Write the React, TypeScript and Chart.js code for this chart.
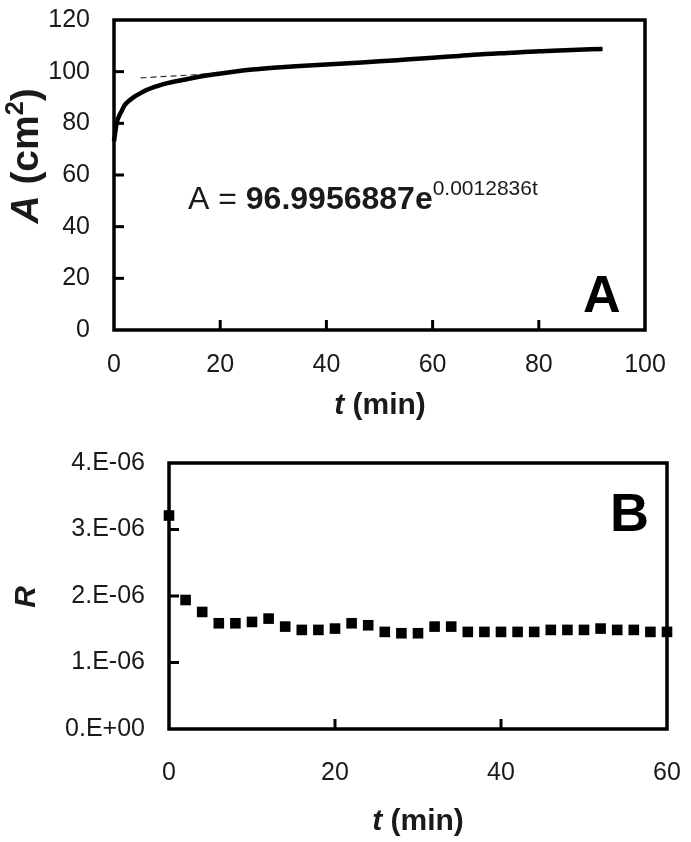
import React, { useEffect, useRef } from "react";
import { Chart, registerables } from "chart.js";

Chart.register(...registerables);

const FONT = "'Liberation Sans', Arial, Helvetica, sans-serif";
const TEXT_COLOR = "#1a1a1a";

// ---------- Panel A data ----------
const areaTimes = [0, 0.5, 1, 1.5, 2, 3, 4, 5, 6, 7.5, 9, 11, 13.5, 16, 19, 22.5, 26, 30, 35, 40, 45, 50, 55, 60, 65, 70, 75, 80, 85, 92];
const areaValues = [73, 80, 83, 85, 87, 89, 90.5, 91.7, 92.8, 94, 95, 96, 97, 98, 99, 100, 100.8, 101.5, 102.2, 102.8, 103.4, 104, 104.7, 105.4, 106.1, 106.8, 107.3, 107.9, 108.3, 108.8];
const fitTimes = [5, 10, 16, 22.5, 30, 40, 50, 60, 70, 80, 92];
const fitValues = [97.6, 98.2, 98.9, 99.8, 101.3, 102.7, 104, 105.3, 106.8, 107.9, 108.9];
const topXTicks = [0, 20, 40, 60, 80, 100];
const topYTicks = [0, 20, 40, 60, 80, 100, 120];
const equationPrefix = "A = ";
const equationCoef = "96.9956887e";
const equationExp = "0.0012836t";

// ---------- Panel B data ----------
const rateTimes = [0, 2, 4, 6, 8, 10, 12, 14, 16, 18, 20, 22, 24, 26, 28, 30, 32, 34, 36, 38, 40, 42, 44, 46, 48, 50, 52, 54, 56, 58, 60];
const rateValues = [3.21e-6, 1.94e-6, 1.76e-6, 1.59e-6, 1.59e-6, 1.61e-6, 1.66e-6, 1.54e-6, 1.49e-6, 1.49e-6, 1.51e-6, 1.59e-6, 1.56e-6, 1.46e-6, 1.44e-6, 1.44e-6, 1.54e-6, 1.54e-6, 1.46e-6, 1.46e-6, 1.46e-6, 1.46e-6, 1.46e-6, 1.49e-6, 1.49e-6, 1.49e-6, 1.51e-6, 1.49e-6, 1.49e-6, 1.46e-6, 1.46e-6];
const botXTicks = [0, 20, 40, 60];
const botYTicks = [0, 1e-6, 2e-6, 3e-6, 4e-6];
const botYTickLabels = ["0.E+00", "1.E-06", "2.E-06", "3.E-06", "4.E-06"];

type Run = { text: string; font: string; dy?: number };

function drawRuns(ctx: CanvasRenderingContext2D, runs: Run[], x: number, y: number, align: "left" | "center") {
  let total = 0;
  for (const r of runs) {
    ctx.font = r.font;
    total += ctx.measureText(r.text).width;
  }
  let cx = align === "center" ? x - total / 2 : x;
  for (const r of runs) {
    ctx.font = r.font;
    ctx.fillText(r.text, cx, y + (r.dy || 0));
    cx += ctx.measureText(r.text).width;
  }
}

const framePlugin = {
  id: "frameTicks",
  beforeDatasetsDraw(chart: any) {
    const { ctx, chartArea: a, scales } = chart;
    ctx.save();
    ctx.strokeStyle = "#000";
    ctx.lineWidth = 3;
    scales.x.ticks.forEach((t: any) => {
      const px = scales.x.getPixelForValue(t.value);
      if (px > a.left + 3 && px < a.right - 3) {
        ctx.beginPath();
        ctx.moveTo(px, a.bottom);
        ctx.lineTo(px, a.bottom - 10);
        ctx.stroke();
      }
    });
    scales.y.ticks.forEach((t: any) => {
      const py = scales.y.getPixelForValue(t.value);
      if (py > a.top + 3 && py < a.bottom - 3) {
        ctx.beginPath();
        ctx.moveTo(a.left, py);
        ctx.lineTo(a.left + 10, py);
        ctx.stroke();
      }
    });
    ctx.lineWidth = 3.5;
    ctx.strokeRect(a.left, a.top, a.right - a.left, a.bottom - a.top);
    ctx.restore();
  },
};

function tickFont() {
  return { family: FONT, size: 25, weight: "normal" as const };
}

function fixX(h: number) {
  return (s: any) => {
    s.height = h;
    s.paddingLeft = 0;
    s.paddingRight = 0;
    s.paddingTop = 0;
    s.paddingBottom = 0;
  };
}
function fixY(w: number) {
  return (s: any) => {
    s.width = w;
    s.paddingLeft = 0;
    s.paddingRight = 0;
    s.paddingTop = 0;
    s.paddingBottom = 0;
  };
}

function App() {
  const topRef = useRef<HTMLCanvasElement>(null);
  const botRef = useRef<HTMLCanvasElement>(null);

  useEffect(() => {
    const topText = {
      id: "topText",
      afterDraw(chart: any) {
        const ctx = chart.ctx as CanvasRenderingContext2D;
        ctx.save();
        ctx.fillStyle = TEXT_COLOR;
        ctx.textBaseline = "alphabetic";
        drawRuns(ctx, [
          { text: equationPrefix, font: `normal 32px ${FONT}` },
          { text: equationCoef, font: `bold 32px ${FONT}` },
          { text: equationExp, font: `normal 21px ${FONT}`, dy: -14 },
        ], 188, 209, "left");
        ctx.fillStyle = "#000";
        drawRuns(ctx, [{ text: "A", font: `bold 52px ${FONT}` }], 583, 312, "left");
        ctx.fillStyle = TEXT_COLOR;
        ctx.textBaseline = "middle";
        drawRuns(ctx, [
          { text: "t", font: `italic bold 30px ${FONT}` },
          { text: " (min)", font: `bold 30px ${FONT}` },
        ], 380, 406, "center");
        ctx.translate(27, 156);
        ctx.rotate(-Math.PI / 2);
        drawRuns(ctx, [
          { text: "A", font: `italic bold 39px ${FONT}` },
          { text: " (cm", font: `bold 39px ${FONT}` },
          { text: "2", font: `bold 25px ${FONT}`, dy: -11 },
          { text: ")", font: `bold 39px ${FONT}` },
        ], 0, 0, "center");
        ctx.restore();
      },
    };

    const botText = {
      id: "botText",
      afterDraw(chart: any) {
        const ctx = chart.ctx as CanvasRenderingContext2D;
        const off = 420;
        ctx.save();
        ctx.fillStyle = "#000";
        ctx.textBaseline = "alphabetic";
        drawRuns(ctx, [{ text: "B", font: `bold 54px ${FONT}` }], 610, 531 - off, "left");
        ctx.fillStyle = TEXT_COLOR;
        ctx.textBaseline = "middle";
        drawRuns(ctx, [
          { text: "t", font: `italic bold 30px ${FONT}` },
          { text: " (min)", font: `bold 30px ${FONT}` },
        ], 418, 822 - off, "center");
        ctx.translate(27, 597 - off);
        ctx.rotate(-Math.PI / 2);
        drawRuns(ctx, [{ text: "R", font: `italic bold 30px ${FONT}` }], 0, 0, "center");
        ctx.restore();
      },
    };

    const top = new Chart(topRef.current!, {
      type: "scatter",
      data: {
        datasets: [
          {
            data: areaTimes.map((t, i) => ({ x: t, y: areaValues[i] })),
            showLine: true,
            borderColor: "#000",
            backgroundColor: "#000",
            borderWidth: 4.5,
            pointRadius: 0,
            cubicInterpolationMode: "monotone",
            order: 0,
            clip: false,
          } as any,
          {
            data: fitTimes.map((t, i) => ({ x: t, y: fitValues[i] })),
            showLine: true,
            borderColor: "#333",
            borderWidth: 1.2,
            borderDash: [6, 4],
            pointRadius: 0,
            cubicInterpolationMode: "monotone",
            order: 1,
          } as any,
        ],
      },
      options: {
        animation: false,
        responsive: false,
        events: [],
        layout: { padding: { left: 0, top: 20, right: 46, bottom: 0 } },
        plugins: { legend: { display: false }, tooltip: { enabled: false } },
        scales: {
          x: {
            type: "linear",
            min: 0,
            max: 100,
            afterBuildTicks: (s: any) => { s.ticks = topXTicks.map((v) => ({ value: v })); },
            afterFit: fixX(90),
            grid: { display: false, drawTicks: false },
            border: { display: false },
            ticks: { font: tickFont(), color: TEXT_COLOR, padding: 20, maxRotation: 0 },
          },
          y: {
            type: "linear",
            min: 0,
            max: 120,
            afterBuildTicks: (s: any) => { s.ticks = topYTicks.map((v) => ({ value: v })); },
            afterFit: fixY(114),
            grid: { display: false, drawTicks: false },
            border: { display: false },
            ticks: { font: tickFont(), color: TEXT_COLOR, padding: 24 },
          },
        },
      },
      plugins: [framePlugin, topText],
    });

    const bot = new Chart(botRef.current!, {
      type: "scatter",
      data: {
        datasets: [
          {
            data: rateTimes.map((t, i) => ({ x: t, y: rateValues[i] })),
            pointStyle: "rect",
            pointRadius: 7.5,
            borderWidth: 0,
            backgroundColor: "#000",
            borderColor: "#000",
            clip: false,
          } as any,
        ],
      },
      options: {
        animation: false,
        responsive: false,
        events: [],
        layout: { padding: { left: 0, top: 43, right: 24, bottom: 0 } },
        plugins: { legend: { display: false }, tooltip: { enabled: false } },
        scales: {
          x: {
            type: "linear",
            min: 0,
            max: 60,
            afterBuildTicks: (s: any) => { s.ticks = botXTicks.map((v) => ({ value: v })); },
            afterFit: fixX(113),
            grid: { display: false, drawTicks: false },
            border: { display: false },
            ticks: { font: tickFont(), color: TEXT_COLOR, padding: 29, maxRotation: 0 },
          },
          y: {
            type: "linear",
            min: 0,
            max: 4e-6,
            afterBuildTicks: (s: any) => { s.ticks = botYTicks.map((v) => ({ value: v })); },
            afterFit: fixY(169),
            grid: { display: false, drawTicks: false },
            border: { display: false },
            ticks: {
              font: tickFont(),
              color: TEXT_COLOR,
              padding: 24,
              callback: (_v: any, i: number) => botYTickLabels[i],
            },
          },
        },
      },
      plugins: [framePlugin, botText],
    });

    return () => {
      top.destroy();
      bot.destroy();
    };
  }, []);

  return (
    <div style={{ position: "absolute", left: 0, top: 0, width: 691, height: 842, background: "#fff" }}>
      <div style={{ position: "absolute", left: 0, top: 0, width: 691, height: 420 }}>
        <canvas ref={topRef} width={691} height={420} style={{ display: "block" }} />
      </div>
      <div style={{ position: "absolute", left: 0, top: 420, width: 691, height: 422 }}>
        <canvas ref={botRef} width={691} height={422} style={{ display: "block" }} />
      </div>
    </div>
  );
}

export default App;
